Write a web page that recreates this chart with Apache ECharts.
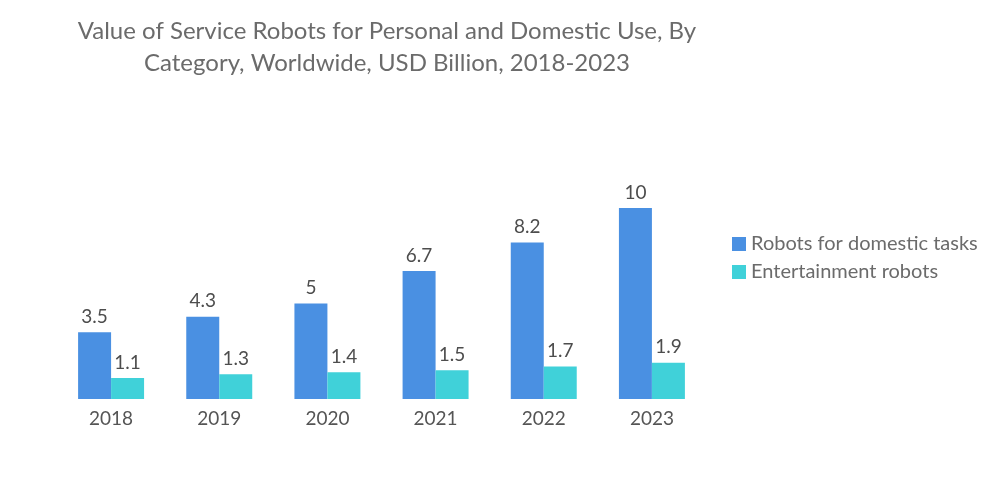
<!DOCTYPE html>
<html>
<head>
<meta charset="utf-8">
<script src="https://cdn.jsdelivr.net/npm/echarts@6/dist/echarts.min.js"></script>
<style>html,body{margin:0;padding:0;background:#fff;}#c{width:1000px;height:504px;}</style>
</head>
<body>
<div id="c"></div>
<script>
var categories = ['2018', '2019', '2020', '2021', '2022', '2023'];
var domesticTasks = [3.5, 4.3, 5, 6.7, 8.2, 10];
var entertainment = [1.1, 1.3, 1.4, 1.5, 1.7, 1.9];
var seriesNames = ['Robots for domestic tasks', 'Entertainment robots'];

var chart = echarts.init(document.getElementById('c'), null, {renderer: 'canvas'});
var labelStyle = {show: true, position: 'top', distance: 6, color: '#4d4d4d', fontSize: 19, fontFamily: 'Lato'};
chart.setOption({
  animation: false,
  title: {
    text: 'Value of Service Robots for Personal and Domestic Use, By\nCategory, Worldwide, USD Billion, 2018-2023',
    left: 382, top: 10, textAlign: 'center',
    textStyle: {color: '#6b6b6b', fontSize: 24, fontWeight: 'normal', fontFamily: 'Lato', lineHeight: 32}
  },
  legend: {
    orient: 'vertical', left: 727, top: 229,
    itemWidth: 14, itemHeight: 14, itemGap: 8,
    icon: 'rect',
    textStyle: {color: '#6b6b6b', fontSize: 20, fontFamily: 'Lato'},
    data: seriesNames
  },
  grid: {left: 57, right: 294, top: 208, bottom: 105},
  xAxis: {
    type: 'category', data: categories,
    axisLine: {show: false}, axisTick: {show: false},
    axisLabel: {color: '#555', fontSize: 19, fontFamily: 'Lato', margin: 10}
  },
  yAxis: {type: 'value', min: 0, max: 10, show: false, splitLine: {show: false}},
  series: [
    {name: seriesNames[0], type: 'bar', data: domesticTasks, barGap: 0, barCategoryGap: '39%',
     itemStyle: {color: '#4a90e2'}, label: labelStyle},
    {name: seriesNames[1], type: 'bar', data: entertainment, barGap: 0, barCategoryGap: '39%',
     itemStyle: {color: '#40d1d9'}, label: labelStyle}
  ]
});
</script>
</body>
</html>
